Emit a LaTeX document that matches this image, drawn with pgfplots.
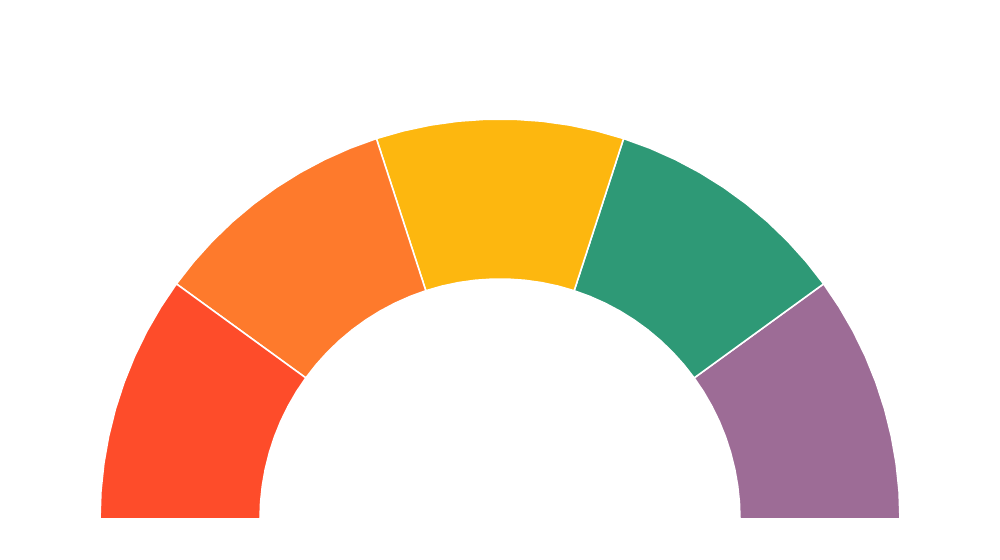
\documentclass[border=0pt]{standalone}
\usepackage{pgfplots}
\pgfplotsset{compat=1.18}
\definecolor{segRed}{RGB}{254,76,42}
\definecolor{segOrange}{RGB}{254,122,44}
\definecolor{segYellow}{RGB}{253,183,15}
\definecolor{segGreen}{RGB}{46,153,118}
\definecolor{segPurple}{RGB}{157,108,150}

\begin{document}
\begin{tikzpicture}
% semi-donut gauge: five equal bands of 36 deg, outer radius 400, inner radius 240
\begin{axis}[
  x=0.1mm, y=0.1mm,
  xmin=-500, xmax=500,
  ymin=-41, ymax=519,
  hide axis,
  scale only axis,
  clip=false,
  every axis plot/.append style={data cs=polar, draw=white, line width=0.45pt, line join=round},
]
\addplot[draw=none, forget plot, data cs=cart] coordinates {(-500,-41) (500,519)};
% purple 0-36
\addplot[fill=segPurple] coordinates {
  (0,400) (4,400) (8,400) (12,400) (16,400) (20,400) (24,400) (28,400) (32,400) (36,400)
  (36,240) (32,240) (28,240) (24,240) (20,240) (16,240) (12,240) (8,240) (4,240) (0,240)
} -- cycle;
% green 36-72
\addplot[fill=segGreen] coordinates {
  (36,400) (40,400) (44,400) (48,400) (52,400) (56,400) (60,400) (64,400) (68,400) (72,400)
  (72,240) (68,240) (64,240) (60,240) (56,240) (52,240) (48,240) (44,240) (40,240) (36,240)
} -- cycle;
% yellow 72-108
\addplot[fill=segYellow] coordinates {
  (72,400) (76,400) (80,400) (84,400) (88,400) (92,400) (96,400) (100,400) (104,400) (108,400)
  (108,240) (104,240) (100,240) (96,240) (92,240) (88,240) (84,240) (80,240) (76,240) (72,240)
} -- cycle;
% orange 108-144
\addplot[fill=segOrange] coordinates {
  (108,400) (112,400) (116,400) (120,400) (124,400) (128,400) (132,400) (136,400) (140,400) (144,400)
  (144,240) (140,240) (136,240) (132,240) (128,240) (124,240) (120,240) (116,240) (112,240) (108,240)
} -- cycle;
% red 144-180
\addplot[fill=segRed] coordinates {
  (144,400) (148,400) (152,400) (156,400) (160,400) (164,400) (168,400) (172,400) (176,400) (180,400)
  (180,240) (176,240) (172,240) (168,240) (164,240) (160,240) (156,240) (152,240) (148,240) (144,240)
} -- cycle;
\end{axis}
\end{tikzpicture}
\end{document}
